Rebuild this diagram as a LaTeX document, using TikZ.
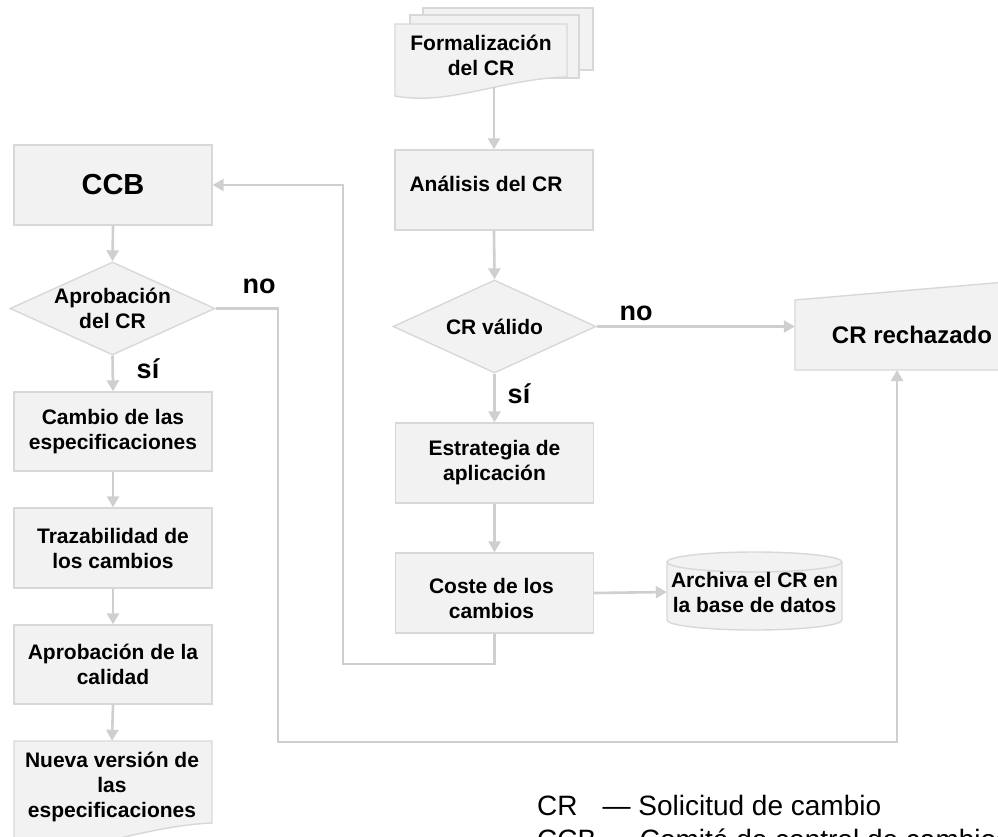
\documentclass[tikz,border=0pt]{standalone}
\usepackage{fontspec}
\setmainfont{Liberation Sans}
\usetikzlibrary{arrows.meta,shapes.geometric,calc}
\definecolor{boxfill}{HTML}{F2F2F2}
\definecolor{boxline}{HTML}{D8D8D8}
\definecolor{arrcol}{HTML}{CFCFCF}
\begin{document}
\begin{tikzpicture}[x=1pt,y=-1pt,
  shp/.style={draw=boxline, fill=boxfill, line width=1.4pt},
  box/.style={shp, minimum width=198pt, minimum height=80pt, inner sep=0pt, align=center, font=\bfseries\fontsize{21}{25}\selectfont},
  dec/.style={shp, diamond, inner sep=0pt},
  txt/.style={align=center, inner sep=0pt, font=\bfseries\fontsize{21}{25}\selectfont},
  arr/.style={draw=arrcol, line width=2.6pt, -{Triangle[length=11pt,width=12pt]}},
  lab/.style={anchor=base, inner sep=0pt, font=\bfseries\fontsize{27}{30}\selectfont},
  leg/.style={anchor=base west, inner sep=0pt, font=\fontsize{28}{32}\selectfont}]
\useasboundingbox (0,0) rectangle (998,836);
\clip (0,0) rectangle (998,836);

% ---- shapes drawn as paths ----
% multi-document "Formalizacion"
\path[shp] (423,8) rectangle (593,70);
\path[shp] (410,15) rectangle (579,78);
\path[shp] (395,24) -- (567,24) -- (567,77) .. controls (500,79) and (450,106) .. (395,96) -- cycle;
% document "Nueva version"
\path[shp] (14,741) -- (212,741) -- (212,823) .. controls (140,826) and (75,858) .. (14,848) -- cycle;
% manual input "CR rechazado"
\path[shp] (795,300) -- (795,370) -- (1029,370) -- (1029,280) -- cycle;
% database cylinder
\path[fill=boxfill] (667,562) -- (667,620) arc[start angle=180, end angle=360, x radius=87.5pt, y radius=10pt] -- (842,562) arc[start angle=0, end angle=180, x radius=87.5pt, y radius=10pt] -- cycle;
\draw[draw=boxline, line width=1.4pt] (667,562) -- (667,620) arc[start angle=180, end angle=360, x radius=87.5pt, y radius=10pt] -- (842,562);
\draw[draw=boxline, line width=1.4pt] (754.5,562) ellipse [x radius=87.5pt, y radius=10pt];

% ---- nodes ----
\node[txt] (form) at (481,55) {Formalización\\del CR};
\coordinate (formb) at (494,87);
\node[box, label={[txt, yshift=6pt, xshift=-8pt]center:Análisis del CR}] (anal) at (494,190) {};
\node[dec, minimum width=203pt, minimum height=93pt, label={[txt]center:CR válido}] (v) at (494.5,326.5) {};
\node[box] (est) at (494.5,463) {Estrategia de\\aplicación};
\node[box, label={[txt, yshift=-5pt, xshift=-3pt]center:Coste de los\\cambios}] (cost) at (494.5,593) {};
\node[txt, minimum width=175pt, minimum height=78pt] (arch) at (754.5,592) {Archiva el CR en\\la base de datos};
\node[txt, minimum width=234pt, minimum height=70pt, font=\bfseries\fontsize{24}{28}\selectfont] (rej) at (912,335) {CR rechazado};

\node[box, font=\bfseries\fontsize{29}{32}\selectfont] (ccb) at (113,185) {CCB};
\node[dec, minimum width=205pt, minimum height=93pt, label={[txt]center:Aprobación\\del CR}] (d1) at (112.5,308.5) {};
\node[box, minimum height=79pt] (camb) at (113,431.5) {Cambio de las\\especificaciones};
\node[box] (traz) at (113,548) {Trazabilidad de\\los cambios};
\node[box, minimum height=79pt] (apr) at (113,664.5) {Aprobación de la\\calidad};
\node[txt, minimum width=198pt, minimum height=92pt] (nueva) at (112,787) {Nueva versión de\\las\\especificaciones};

% ---- labels ----
\node[lab] (no1) at (259,293) {no};
\node[lab] (si1) at (148,378) {sí};
\node[lab] (no2) at (636,320) {no};
\node[lab] (si2) at (519,403) {sí};

% ---- legend ----
\node[leg] (leg1) at (537,815) {CR\hspace{25pt}— Solicitud de cambio};
\node[leg] (leg2) at (537,849) {CCB — Comité de control de cambios};

% ---- connectors ----
\coordinate (k1) at (343,664);
\coordinate (k2) at (343,185);
\coordinate (k3) at (278,308.5);
\coordinate (k4) at (278,742);
\coordinate (k5) at (897,742);
\coordinate (k6) at (897,370);

\draw[arr] (formb) -- (anal.north);
\draw[arr] (anal.south) -- (v.north);
\draw[arr] (v.east) -- (v.east -| rej.west);
\draw[arr] (v.south) -- (est.north);
\draw[arr] (est.south) -- (cost.north);
\draw[arr] (cost.east) -- (arch.west);
\draw[arr] (cost.south) |- (k1) -- (k2) -- (ccb.east);

\draw[arr] (ccb.south) -- (d1.north);
\draw[arr] (d1.south) -- (camb.north);
\draw[arr] (camb.south) -- (traz.north);
\draw[arr] (traz.south) -- (apr.north);
\draw[arr] (apr.south) -- (nueva.north);
\draw[arr] (d1.east) -- (k3) -- (k4) -- (k5) -- (k6);
\end{tikzpicture}
\end{document}
